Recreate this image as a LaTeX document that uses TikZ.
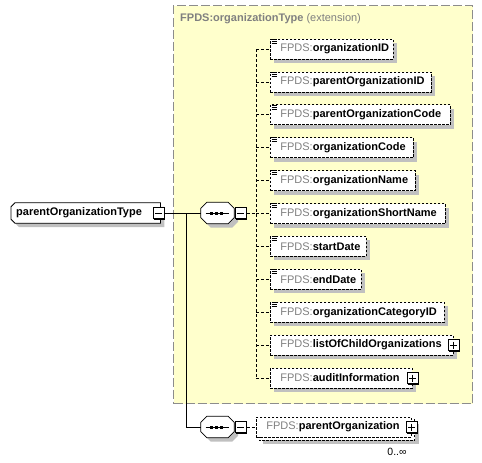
\documentclass[tikz,border=0pt]{standalone}
\usepackage{fontspec}
\setmainfont{Liberation Sans}
\usetikzlibrary{shadows,calc}
\definecolor{yel}{RGB}{255,255,204}
\definecolor{fgray}{RGB}{128,128,128}
\definecolor{shd}{RGB}{192,192,192}
\definecolor{bordgray}{RGB}{140,140,140}
\pgfdeclarelayer{back}
\pgfsetlayers{back,main}
\newcommand\fp[1]{\hspace*{10pt}\textcolor{fgray}{FPDS:}\textbf{#1}}
\newcommand\octpath[3]{($(#1.north west)+(6+#2,#3)$) -- ($(#1.north east)+(-6+#2,#3)$) -- ($(#1.north east)+(#2,6+#3)$) -- ($(#1.south east)+(#2,-6+#3)$) -- ($(#1.south east)+(-6+#2,#3)$) -- ($(#1.south west)+(6+#2,#3)$) -- ($(#1.south west)+(#2,-6+#3)$) -- ($(#1.north west)+(#2,6+#3)$) -- cycle}
\newcommand\pmminus[1]{\draw[line width=0.8pt] ($(#1.center)+(-3.5,0)$) -- ($(#1.center)+(3.5,0)$);}
\newcommand\pmplus[1]{\pmminus{#1}\draw[line width=0.8pt] ($(#1.center)+(0,-3.5)$) -- ($(#1.center)+(0,3.5)$);}
\begin{document}
\begin{tikzpicture}[x=1pt,y=-1pt,font=\fontsize{11}{13}\selectfont,
  elembase/.style={draw,line width=0.8pt,dash pattern=on 2.5pt off 1.5pt,fill=white,
    anchor=west,inner xsep=0pt,inner ysep=0pt,minimum height=20pt,text width=#1,align=left},
  elem/.style={elembase=#1,drop shadow={shadow xshift=4pt,shadow yshift=-4pt,fill=shd,opacity=1}},
  elemline/.style={draw,line width=0.8pt,dash pattern=on 2.5pt off 1.5pt},
  pmbox/.style={draw,line width=0.8pt,fill=white,minimum size=11pt,inner sep=0pt,
    drop shadow={shadow xshift=1pt,shadow yshift=-1pt,fill=black,opacity=1}},
  conn/.style={line width=0.8pt,dash pattern=on 3pt off 2pt},
  solidconn/.style={line width=0.8pt},
  extbox/.style={draw=bordgray,line width=1pt,dash pattern=on 9pt off 3pt,fill=yel,
    anchor=north west,inner sep=0pt,minimum width=299pt,minimum height=398pt},
  seqbox/.style={minimum width=33pt,minimum height=21pt,inner sep=0pt}]
\useasboundingbox (0,0) rectangle (482,463);
% extension container
\begin{pgfonlayer}{back}
\node[extbox] (ext) at (173,5) {};
\end{pgfonlayer}
\node[anchor=west,inner sep=0pt,text=fgray] (title) at (180,19) {\textbf{FPDS:organizationType} (extension)};
% root type
\node[anchor=west,inner sep=0pt,minimum height=20pt,text width=149pt,align=left] (pot) at (11,213) {\hspace*{5pt}\textbf{parentOrganizationType}};
\begin{pgfonlayer}{back}
\fill[shd] ($(pot.north west)+(8,4)$) -- ($(pot.north east)+(4,4)$) -- ($(pot.south east)+(4,4)$) -- ($(pot.south west)+(8,4)$) -- ($(pot.south west)+(4,0)$) -- ($(pot.north west)+(4,8)$) -- cycle;
\draw[line width=0.8pt,fill=white] ($(pot.north west)+(4,0)$) -- (pot.north east) -- (pot.south east) -- ($(pot.south west)+(4,0)$) -- ($(pot.south west)+(0,-4)$) -- ($(pot.north west)+(0,4)$) -- cycle;
\end{pgfonlayer}
\node[pmbox] (potm) at ($(pot.east)+(-1.5,0)$) {};
\pmminus{potm}
% sequence 1
\node[seqbox] (s1) at (217.5,213) {};
\fill[shd] \octpath{s1}{4}{4};
\draw[line width=0.8pt,fill=white] \octpath{s1}{0}{0};
\draw[line width=0.8pt] ($(s1.center)+(-12,0)$) -- ($(s1.center)+(11,0)$);
\foreach \d in {-6,-1,4} \fill ($(s1.center)+(\d-1.5,-1.5)$) rectangle ++(3,3);
\node[pmbox] (m1) at ($(s1.east)+(6.5,0)$) {};
\pmminus{m1}
% sequence 2
\node[seqbox] (s2) at (217.5,427) {};
\fill[shd] \octpath{s2}{4}{4};
\draw[line width=0.8pt,fill=white] \octpath{s2}{0}{0};
\draw[line width=0.8pt] ($(s2.center)+(-12,0)$) -- ($(s2.center)+(11,0)$);
\foreach \d in {-6,-1,4} \fill ($(s2.center)+(\d-1.5,-1.5)$) rectangle ++(3,3);
\node[pmbox] (m2) at ($(s2.east)+(6.5,0)$) {};
\pmminus{m2}
% solid connectors
\coordinate (branch) at (186,213);
\draw[solidconn] (potm.east) -- (s1.west);
\draw[solidconn] (branch) |- (s2.west);
% elements
\coordinate (spine) at (256,213);
\foreach \i/\nm/\w in {1/organizationID/123,2/parentOrganizationID/161,3/parentOrganizationCode/180,
  4/organizationCode/143,5/organizationName/145,6/organizationShortName/175,7/startDate/96,
  8/endDate/91,9/organizationCategoryID/174,10/listOfChildOrganizations/183,11/auditInformation/142}{
  \node[elem=\w pt] (e\i) at (270,{49+32.9*(\i-1)}) {\fp{\nm}};
  \ifnum\i<10
    \foreach \k in {0.5,2.5,4.5} \draw[line width=0.7pt] ($(e\i.north west)+(1.5,\k)$) -- ++(5,0);
  \fi
}
\draw[conn] (e1.west -| spine) -- (e11.west -| spine);
\foreach \i in {1,...,11} \draw[conn] (e\i.west -| spine) -- (e\i.west);
\draw[conn] (m1.east) -- (m1.east -| spine);
\node[pmbox] (p10) at (e10.east) {};
\pmplus{p10}
\node[pmbox] (p11) at (e11.east) {};
\pmplus{p11}
% parentOrganization (repeating)
\node[elembase=155pt] (po) at (256,427) {\fp{parentOrganization}};
\begin{pgfonlayer}{back}
\fill[shd] ($(po.north west)+(7,7)$) rectangle ($(po.south east)+(7,7)$);
\draw[elemline,fill=white] ($(po.north west)+(3,3)$) rectangle ($(po.south east)+(3,3)$);
\end{pgfonlayer}
\node[pmbox] (pop) at (po.east) {};
\pmplus{pop}
\draw[conn] (m2.east) -- (po.west);
\node[inner sep=0pt,font=\fontsize{10.5}{12}\selectfont] (occ) at (397,452) {0..∞};
\end{tikzpicture}
\end{document}
